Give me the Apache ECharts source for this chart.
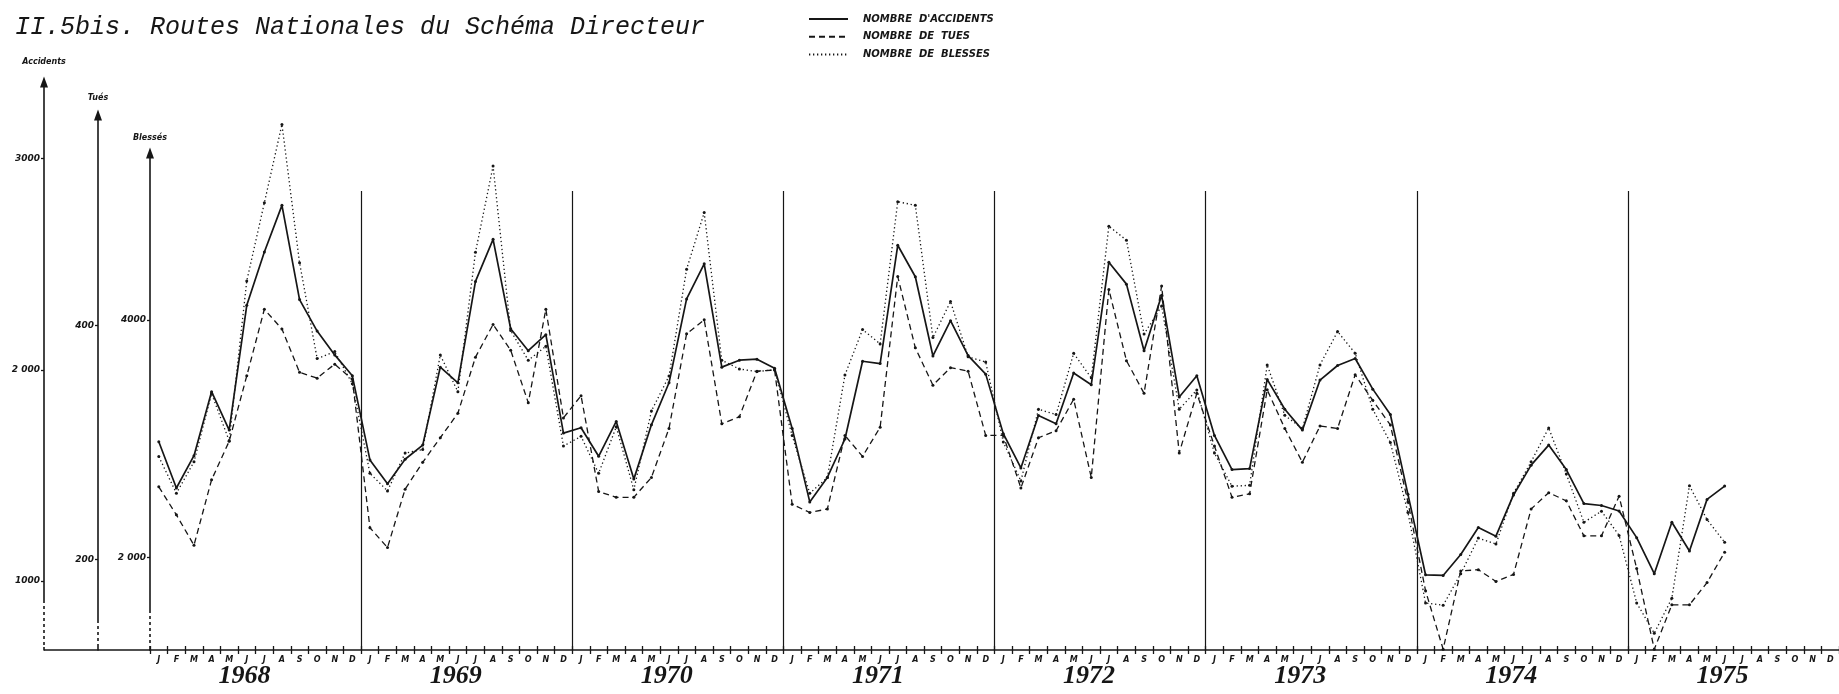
<!DOCTYPE html>
<html>
<head>
<meta charset="utf-8">
<title>Routes Nationales du Schéma Directeur</title>
<script src="https://cdn.jsdelivr.net/npm/echarts@6/dist/echarts.min.js"></script>
<style>
html, body { margin: 0; padding: 0; background: #fff; }
#chart { width: 1839px; height: 694px; }
</style>
</head>
<body>
<div id="chart"></div>
<script>
// annees et mois (axe des x)
var years = ['1968', '1969', '1970', '1971', '1972', '1973', '1974', '1975'];
var monthLetters = ['J', 'F', 'M', 'A', 'M', 'J', 'J', 'A', 'S', 'O', 'N', 'D'];

// nombre d'accidents, par mois (jan 1968 -> juin 1975)
var accidents = [
    1660, 1441, 1594, 1897, 1715, 2306, 2558, 2779, 2333, 2184, 2071, 1972,
    1574, 1461, 1577, 1644, 2013, 1939, 2419, 2618, 2195, 2091, 2167, 1701,
    1726, 1591, 1756, 1483, 1740, 1939, 2336, 2502, 2013, 2046, 2051, 2008,
    1723, 1375, 1491, 1673, 2041, 2030, 2590, 2441, 2066, 2233, 2068, 1980,
    1698, 1536, 1784, 1745, 1985, 1930, 2510, 2406, 2091, 2353, 1872, 1972,
    1690, 1528, 1533, 1955, 1814, 1715, 1952, 2021, 2054, 1909, 1789, 1411,
    1030, 1027, 1126, 1254, 1213, 1408, 1549, 1644, 1528, 1367, 1358, 1332,
    1206, 1035, 1279, 1143, 1387, 1450, null, null, null, null, null, null
];
// nombre de tues
var tues = [
    262, 238, 212, 268, 301, 357, 414, 397, 360, 355, 367, 354,
    227, 210, 260, 283, 304, 325, 373, 401, 379, 334, 414, 321,
    340, 258, 253, 253, 270, 312, 393, 405, 316, 322, 361, 362,
    247, 240, 243, 306, 288, 313, 442, 381, 349, 364, 361, 306,
    306, 261, 304, 310, 337, 270, 431, 370, 342, 434, 291, 342,
    297, 253, 256, 345, 312, 283, 314, 312, 358, 336, 315, 249,
    173, 123, 190, 191, 181, 187, 243, 257, 250, 220, 220, 254,
    192, 123, 161, 161, 180, 206, null, null, null, null, null, null
];
// nombre de blesses
var blesses = [
    2849, 2540, 2805, 3380, 2982, 4330, 4988, 5649, 4484, 3675, 3734, 3463,
    2708, 2560, 2879, 2908, 3705, 3395, 4572, 5298, 3911, 3661, 3779, 2938,
    3020, 2708, 3100, 2569, 3233, 3528, 4428, 4906, 3661, 3587, 3566, 3581,
    3026, 2540, 2672, 3537, 3920, 3799, 4997, 4968, 3852, 4156, 3690, 3646,
    2973, 2643, 3248, 3203, 3720, 3513, 4791, 4673, 3882, 4118, 3248, 3410,
    2879, 2599, 2607, 3622, 3197, 3085, 3622, 3903, 3720, 3248, 2967, 2377,
    1616, 1596, 1861, 2162, 2112, 2540, 2805, 3091, 2702, 2295, 2389, 2185,
    1616, 1360, 1655, 2604, 2318, 2127, null, null, null, null, null, null
];

var months = [];
years.forEach(function (y) {
    monthLetters.forEach(function (m, k) {
        months.push(y + '-' + k);
    });
});

var ink = '#161616';

function monthAxis(gridIndex, showLabel, tickInside) {
    return {
        type: 'category',
        gridIndex: gridIndex,
        data: months,
        boundaryGap: true,
        axisLine: { show: gridIndex === 0, lineStyle: { color: ink, width: 1.6 } },
        axisTick: {
            show: gridIndex !== 2,
            interval: 0,
            inside: tickInside,
            length: 4,
            lineStyle: { color: ink, width: 1.3 }
        },
        axisLabel: {
            show: showLabel,
            interval: 0,
            margin: 6,
            color: ink,
            fontSize: 8,
            fontStyle: 'italic',
            fontWeight: 'bold',
            fontFamily: 'DejaVu Sans',
            formatter: function (v, idx) {
                return monthLetters[idx % 12];
            }
        },
        splitLine: { show: false }
    };
}

function valueAxis(gridIndex, name, nameGap, min, max, ticks, offset) {
    return {
        type: 'value',
        gridIndex: gridIndex,
        position: 'left',
        offset: offset,
        min: min,
        max: max,
        name: name,
        nameLocation: 'end',
        nameGap: nameGap,
        nameTextStyle: {
            color: ink,
            fontSize: 8,
            fontStyle: 'italic',
            fontWeight: 'bold',
            fontFamily: 'DejaVu Sans',
            align: 'center'
        },
        axisLine: {
            show: true,
            symbol: ['none', 'triangle'],
            symbolSize: [8, 11],
            lineStyle: { color: ink, width: 1.6 }
        },
        axisTick: {
            show: true,
            length: 3,
            customValues: ticks,
            lineStyle: { color: ink, width: 1.3 }
        },
        axisLabel: {
            show: true,
            customValues: ticks,
            margin: 4,
            color: ink,
            fontSize: 9,
            fontStyle: 'italic',
            fontWeight: 'bold',
            fontFamily: 'DejaVu Sans',
            formatter: function (v) {
                return v === 2000 ? '2 000' : String(v);
            }
        },
        splitLine: { show: false }
    };
}

// bas des axes verticaux en pointilles
function dashedFoot(x, yTop) {
    return {
        type: 'line',
        z: 50,
        shape: { x1: x, y1: yTop, x2: x, y2: 647 },
        style: { stroke: '#ffffff', lineWidth: 3, lineDash: [3, 3] }
    };
}

var myEchart = echarts.init(document.getElementById('chart'), null, { renderer: 'canvas' });

var option = {
    backgroundColor: '#ffffff',
    animation: false,
    title: {
        text: 'II.5bis. Routes Nationales du Schéma Directeur',
        left: 10,
        top: 10,
        textStyle: {
            color: ink,
            fontFamily: 'Liberation Mono',
            fontStyle: 'italic',
            fontWeight: 'normal',
            fontSize: 25
        }
    },
    legend: {
        orient: 'vertical',
        left: 803,
        top: 9,
        itemWidth: 39,
        itemHeight: 10,
        itemGap: 7.8,
        itemStyle: { opacity: 0 },
        textStyle: {
            color: ink,
            fontSize: 10,
            fontStyle: 'italic',
            fontWeight: 'bold',
            fontFamily: 'DejaVu Sans',
            padding: [0, 0, 0, 10]
        },
        formatter: function (name) {
            return name.replace(/ /g, '  ');
        },
        data: ["NOMBRE D'ACCIDENTS", 'NOMBRE DE TUES', 'NOMBRE DE BLESSES']
    },
    grid: [
        { left: 150, right: 0, top: 82, bottom: 44 },   // accidents
        { left: 150, right: 0, top: 115, bottom: 44 },  // tues
        { left: 150, right: 0, top: 153, bottom: 44 },  // blesses
        { left: 150, right: 0, top: 191, bottom: 44 }   // separateurs annuels
    ],
    xAxis: [
        monthAxis(0, true, false),
        monthAxis(1, false, true),
        monthAxis(2, false, false),
        {
            type: 'category',
            gridIndex: 3,
            data: years,
            boundaryGap: true,
            axisLine: { show: false },
            axisTick: { show: false },
            axisLabel: {
                interval: 0,
                margin: 13,
                padding: [0, 22, 0, 0],
                color: ink,
                fontSize: 26,
                fontStyle: 'italic',
                fontWeight: 'bold',
                fontFamily: 'Liberation Serif'
            },
            splitLine: {
                show: true,
                interval: 0,
                showMinLine: false,
                showMaxLine: false,
                lineStyle: { color: ink, width: 1.2 }
            }
        }
    ],
    yAxis: [
        valueAxis(0, 'Accidents', 16, 674, 3363, [1000, 2000, 3000], 106),
        valueAxis(1, 'Tués', 13, 122.3, 580.3, [200, 400], 52),
        valueAxis(2, 'Blessés', 11, 1219, 5408, [2000, 4000], 0),
        { type: 'value', gridIndex: 3, min: 0, max: 1, show: false }
    ],
    graphic: [{
        type: 'line',
        shape: { x1: 44, y1: 650, x2: 150, y2: 650 },
        style: { stroke: ink, lineWidth: 1.6 }
    },
        dashedFoot(44, 603),
        dashedFoot(98, 623),
        dashedFoot(150, 613)
    ],
    series: [{
        name: "NOMBRE D'ACCIDENTS",
        type: 'line',
        xAxisIndex: 0,
        yAxisIndex: 0,
        data: accidents,
        clip: false,
        showAllSymbol: true,
        symbol: 'circle',
        symbolSize: 3,
        itemStyle: { color: ink },
        lineStyle: { color: ink, width: 1.7, type: 'solid' }
    }, {
        name: 'NOMBRE DE TUES',
        type: 'line',
        xAxisIndex: 1,
        yAxisIndex: 1,
        data: tues,
        clip: false,
        showAllSymbol: true,
        symbol: 'circle',
        symbolSize: 3,
        itemStyle: { color: ink },
        lineStyle: { color: ink, width: 1.3, type: [6, 4] }
    }, {
        name: 'NOMBRE DE BLESSES',
        type: 'line',
        xAxisIndex: 2,
        yAxisIndex: 2,
        data: blesses,
        clip: false,
        showAllSymbol: true,
        symbol: 'circle',
        symbolSize: 3,
        itemStyle: { color: ink },
        lineStyle: { color: ink, width: 1.3, type: [1.3, 2.7] }
    }]
};

myEchart.setOption(option);
</script>
</body>
</html>
